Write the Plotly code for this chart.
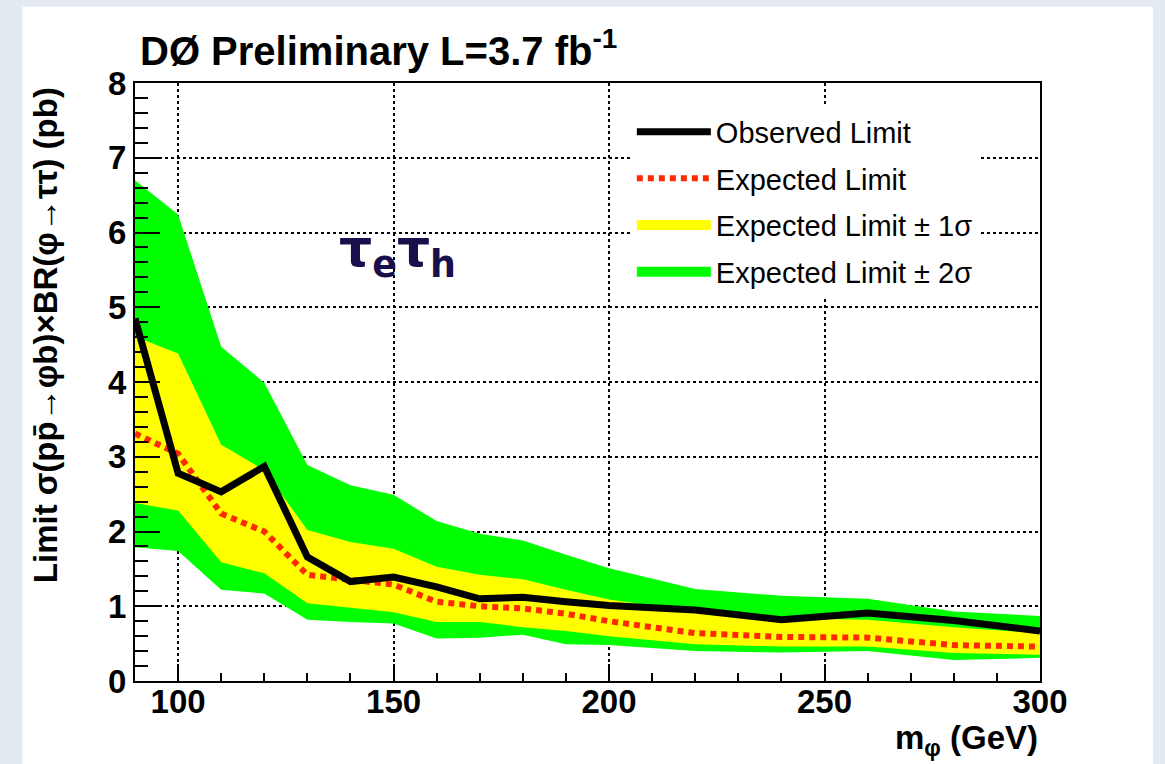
import plotly.graph_objects as go

# ---- data ----
mass = [90, 100, 110, 120, 130, 140, 150, 160, 170, 180, 190, 200, 220, 240, 260, 280, 300]
observed = [4.85, 2.78, 2.53, 2.87, 1.66, 1.33, 1.39, 1.26, 1.10, 1.12, 1.06, 1.01, 0.95, 0.82, 0.91, 0.81, 0.67]
expected = [3.31, 3.04, 2.24, 2.00, 1.42, 1.35, 1.29, 1.06, 1.00, 0.97, 0.90, 0.80, 0.64, 0.59, 0.58, 0.48, 0.46]
exp_up1 = [4.61, 4.38, 3.16, 2.82, 2.02, 1.86, 1.77, 1.53, 1.42, 1.36, 1.22, 1.09, 0.93, 0.84, 0.82, 0.72, 0.64]
exp_lo1 = [2.38, 2.28, 1.59, 1.44, 1.04, 0.98, 0.92, 0.79, 0.79, 0.72, 0.67, 0.60, 0.49, 0.46, 0.46, 0.375, 0.35]
exp_up2 = [6.70, 6.24, 4.47, 3.99, 2.89, 2.62, 2.49, 2.14, 1.97, 1.88, 1.69, 1.51, 1.23, 1.14, 1.10, 0.93, 0.87]
exp_lo2 = [1.79, 1.74, 1.22, 1.17, 0.82, 0.79, 0.77, 0.57, 0.58, 0.62, 0.49, 0.48, 0.40, 0.38, 0.40, 0.28, 0.31]

x_ticks = [100, 150, 200, 250, 300]
y_ticks = [0, 1, 2, 3, 4, 5, 6, 7, 8]

FONT = "Liberation Sans"
GREEN = "#00ff00"
YELLOW = "#ffff00"

fig = go.Figure()

# +-2 sigma band
fig.add_trace(go.Scatter(
    x=mass + mass[::-1], y=exp_up2 + exp_lo2[::-1],
    fill="toself", fillcolor=GREEN, line=dict(width=0, color=GREEN),
    mode="lines", showlegend=False, hoverinfo="skip"))
# +-1 sigma band
fig.add_trace(go.Scatter(
    x=mass + mass[::-1], y=exp_up1 + exp_lo1[::-1],
    fill="toself", fillcolor=YELLOW, line=dict(width=0, color=YELLOW),
    mode="lines", showlegend=False, hoverinfo="skip"))
# expected
fig.add_trace(go.Scatter(
    x=mass, y=expected, mode="lines",
    line=dict(color="#ff2a00", width=6, dash="6px,5px"),
    name="Expected Limit", legendrank=2, legendgroup="g2"))
# observed
fig.add_trace(go.Scatter(
    x=mass, y=observed, mode="lines",
    line=dict(color="black", width=7),
    name="Observed Limit", legendrank=1, legendgroup="g1"))
# legend swatches for the bands (legend only, no data)
fig.add_trace(go.Scatter(
    x=[None], y=[None], mode="lines", line=dict(color=YELLOW, width=40),
    name="Expected Limit \u00b1 1\u03c3", legendrank=3, legendgroup="g3"))
fig.add_trace(go.Scatter(
    x=[None], y=[None], mode="lines", line=dict(color=GREEN, width=40),
    name="Expected Limit \u00b1 2\u03c3", legendrank=4, legendgroup="g4"))

fig.update_layout(
    width=1165, height=764,
    margin=dict(l=135, r=125, t=83, b=83),
    paper_bgcolor="#e4eaf2",
    plot_bgcolor="white",
    showlegend=True,
    legend=dict(
        x=0.549, y=0.961, xanchor="left", yanchor="top",
        bgcolor="white", borderwidth=0,
        font=dict(family=FONT, size=29, color="black"),
        itemwidth=74, traceorder="grouped", tracegroupgap=6,
    ),
    shapes=[dict(type="rect", xref="paper", yref="paper",
                 x0=-0.1244, x1=1.1248, y0=-0.25, y1=1.1277,
                 fillcolor="white", line=dict(width=0), layer="below")],
)

fig.update_xaxes(
    range=[90, 300], tickvals=x_ticks, ticktext=[str(v) for v in x_ticks],
    ticks="inside", ticklen=17, tickwidth=2, tickcolor="black",
    showline=True, linecolor="black", linewidth=2, mirror=True,
    showgrid=True, gridcolor="black", gridwidth=1.5, griddash="dot",
    tickfont=dict(family=FONT, size=33, color="black", weight="bold"),
    ticklabelstandoff=-10,
    minor=dict(dtick=10, ticks="inside", ticklen=8, tickwidth=1.5, tickcolor="black", showgrid=False),
    zeroline=False,
)
fig.update_yaxes(
    range=[0, 8], tickvals=y_ticks, ticktext=[str(v) for v in y_ticks],
    ticks="inside", ticklen=25, tickwidth=2, tickcolor="black",
    showline=True, linecolor="black", linewidth=2, mirror=True,
    showgrid=True, gridcolor="black", gridwidth=1.5, griddash="dot",
    tickfont=dict(family=FONT, size=33, color="black", weight="bold"),
    minor=dict(dtick=0.2, ticks="inside", ticklen=13, tickwidth=1.5, tickcolor="black", showgrid=False),
    zeroline=False,
)

# title
fig.add_annotation(
    text="D\u00d8 Preliminary L=3.7 fb<sup>-1</sup>",
    xref="paper", yref="paper", x=0.003, y=1.058, xanchor="left", yanchor="middle",
    showarrow=False, font=dict(family=FONT, size=40, color="black", weight="bold"))

# y axis title
fig.add_annotation(
    text="Limit \u03c3(pp\u0304\u2192\u03c6b)\u00d7BR(\u03c6\u2192\u03c4\u03c4) (pb)",
    xref="paper", yref="paper", x=-0.099, y=0.997, xanchor="center", yanchor="top",
    textangle=-90, showarrow=False,
    font=dict(family=FONT, size=33, color="black", weight="bold"))

# x axis title
fig.add_annotation(
    text="m<sub>\u03c6</sub> (GeV)",
    xref="paper", yref="paper", x=1.0, y=-0.099, xanchor="right", yanchor="middle",
    showarrow=False, font=dict(family=FONT, size=33, color="black", weight="bold"))

# channel label
fig.add_annotation(
    text="\u03c4<sub>e</sub>\u03c4<sub>h</sub>",
    x=151, y=5.74, xref="x", yref="y", showarrow=False,
    font=dict(family="DejaVu Sans", size=52, color="#1a0f4d", weight="bold"))

fig.write_html("out.html")
